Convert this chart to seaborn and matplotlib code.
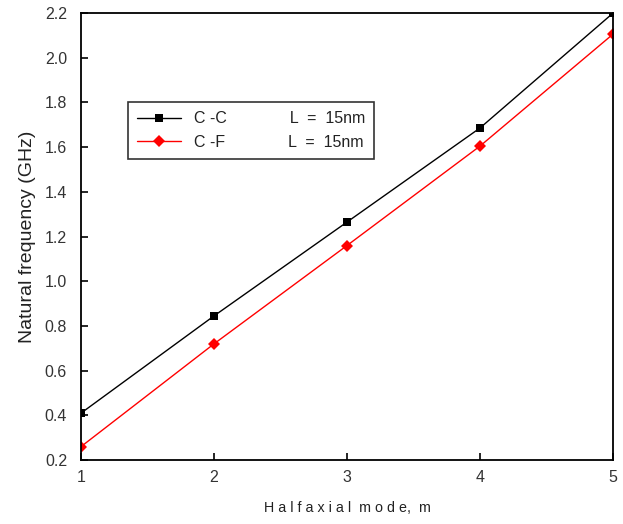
import matplotlib
matplotlib.use("Agg")
import matplotlib.pyplot as plt
import seaborn as sns
import pandas as pd

modes = [1, 2, 3, 4, 5]
cc_freq = [0.41, 0.845, 1.265, 1.686, 2.20]
cf_freq = [0.26, 0.72, 1.16, 1.605, 2.106]
labels = ["C -C              L  =  15nm",
          "C -F              L  =  15nm"]
x_ticks = [1, 2, 3, 4, 5]
y_ticks = [0.2, 0.4, 0.6, 0.8, 1.0, 1.2, 1.4, 1.6, 1.8, 2.0, 2.2]

df = pd.DataFrame({
    "m": modes + modes,
    "freq": cc_freq + cf_freq,
    "series": [labels[0]] * 5 + [labels[1]] * 5,
})

sns.set_style("white")
plt.rcParams["font.family"] = ["Liberation Sans", "DejaVu Sans"]

fig = plt.figure(figsize=(6.23, 5.24), dpi=100)
ax = fig.add_axes([0.130, 0.122, 0.854, 0.853])

sns.lineplot(data=df, x="m", y="freq", hue="series", style="series",
             palette={labels[0]: "black", labels[1]: "red"},
             markers={labels[0]: "s", labels[1]: "D"},
             dashes=False, markersize=6, linewidth=1.0,
             markeredgewidth=0, ax=ax)

ax.set_xlim(1, 5)
ax.set_ylim(0.2, 2.2)
ax.set_xticks(x_ticks)
ax.set_xticklabels([str(v) for v in x_ticks])
ax.set_yticks(y_ticks)
ax.set_yticklabels([f"{v:.1f}" for v in y_ticks])
ax.tick_params(direction="in", length=5, width=1.2, colors="black",
               labelcolor="#333333", labelsize=11.5, top=False, right=False,
               bottom=True, left=True)
ax.tick_params(axis="y", pad=10)
ax.tick_params(axis="x", pad=7)
for s in ax.spines.values():
    s.set_color("black")
    s.set_linewidth(1.3)

ax.set_xlabel("H a l f a x i a l  m o d e,  m", fontsize=10.3, color="#222222", labelpad=12)
ax.set_ylabel("Natural frequency (GHz)", fontsize=14, color="#222222", labelpad=6)

leg = ax.legend(loc="upper left", bbox_to_anchor=(0.088, 0.80), frameon=True,
                fancybox=False, edgecolor="black", fontsize=11.5,
                handlelength=2.8, borderpad=0.55, labelspacing=0.55,
                borderaxespad=0)
leg.get_frame().set_linewidth(1.2)
for t in leg.get_texts():
    t.set_color("#222222")

fig.savefig("out.png", dpi=100)
